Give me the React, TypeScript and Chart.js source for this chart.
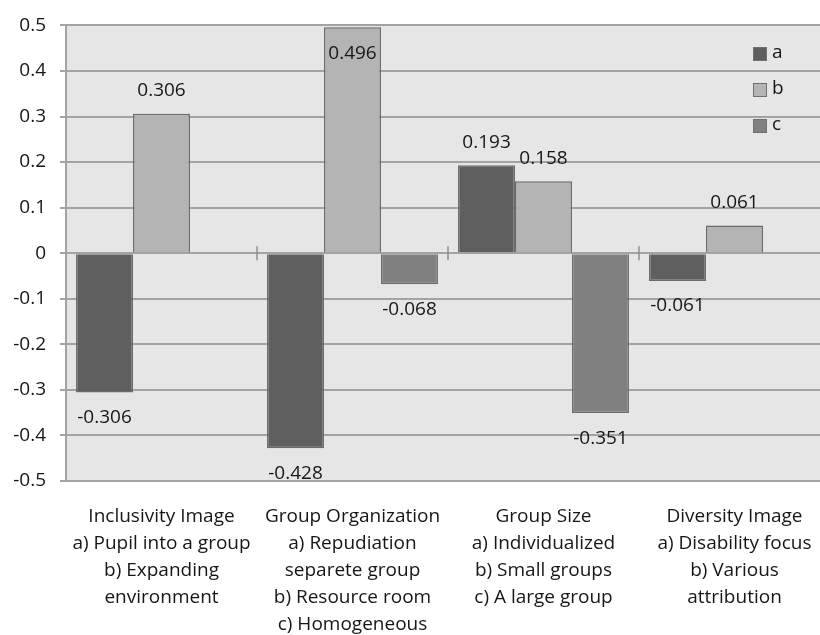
import React, { useEffect, useRef } from "react";
import { Chart, registerables } from "chart.js";

Chart.register(...registerables);

const categories: string[][] = [
  ["Inclusivity Image", "a) Pupil into a group", "b) Expanding", "environment"],
  ["Group Organization", "a) Repudiation", "separete group", "b) Resource room", "c) Homogeneous"],
  ["Group Size", "a) Individualized", "b) Small groups", "c) A large group"],
  ["Diversity Image", "a) Disability focus", "b) Various", "attribution"],
];
const seriesNames = ["a", "b", "c"];
const seriesA: (number | null)[] = [-0.306, -0.428, 0.193, -0.061];
const seriesB: (number | null)[] = [0.306, 0.496, 0.158, 0.061];
const seriesC: (number | null)[] = [null, -0.068, -0.351, null];
const seriesColors = ["#5f5f5f", "#b4b4b4", "#808080"];
const yMin = -0.5;
const yMax = 0.5;
const yStep = 0.1;

const FONT = "'Open Sans', sans-serif";
const TEXT = "#161616";
const GRID = "#a3a3a3";

const bgPlugin = {
  id: "plotBg",
  beforeDraw(chart: any) {
    const { ctx, chartArea } = chart;
    ctx.save();
    ctx.fillStyle = "#e6e6e6";
    ctx.fillRect(chartArea.left, chartArea.top, chartArea.right - chartArea.left, chartArea.bottom - chartArea.top);
    ctx.restore();
  },
};

const catTickPlugin = {
  id: "catTicks",
  afterDatasetsDraw(chart: any) {
    const { ctx } = chart;
    const xs = chart.scales.x;
    const ys = chart.scales.y;
    const y0 = ys.getPixelForValue(0);
    ctx.save();
    ctx.strokeStyle = "#8f8f8f";
    ctx.lineWidth = 1.5;
    for (let i = 1; i < categories.length; i++) {
      const bx = (xs.getPixelForTick(i - 1) + xs.getPixelForTick(i)) / 2;
      ctx.beginPath();
      ctx.moveTo(bx, y0 - 7);
      ctx.lineTo(bx, y0 + 7);
      ctx.stroke();
    }
    ctx.restore();
  },
};

const labelPlugin = {
  id: "valueLabels",
  afterDatasetsDraw(chart: any) {
    const { ctx, chartArea } = chart;
    ctx.save();
    ctx.font = `19px ${FONT}`;
    ctx.fillStyle = TEXT;
    ctx.textAlign = "center";
    ctx.textBaseline = "middle";
    chart.data.datasets.forEach((ds: any, di: number) => {
      const meta = chart.getDatasetMeta(di);
      meta.data.forEach((el: any, j: number) => {
        const v = ds.data[j];
        if (v === null || v === undefined) return;
        let y: number;
        if (v >= 0) {
          y = el.y - 23;
          if (y < chartArea.top + 10) y = el.y + 26;
        } else {
          y = el.y + 25;
        }
        ctx.fillText(v.toFixed(3), el.x, y);
      });
    });
    ctx.restore();
  },
};

const legendPlugin = {
  id: "insideLegend",
  afterDraw(chart: any) {
    const { ctx } = chart;
    const x = 753;
    const y0 = 54;
    const gap = 36;
    ctx.save();
    ctx.font = `19px ${FONT}`;
    ctx.textBaseline = "middle";
    ctx.textAlign = "left";
    chart.data.datasets.forEach((ds: any, i: number) => {
      const y = y0 + i * gap;
      ctx.fillStyle = ds.backgroundColor;
      ctx.fillRect(x, y - 7, 14, 14);
      ctx.strokeStyle = "#707070";
      ctx.lineWidth = 1;
      ctx.strokeRect(x + 0.5, y - 6.5, 13, 13);
      ctx.fillStyle = TEXT;
      ctx.fillText(ds.label, x + 19, y - 1);
    });
    ctx.restore();
  },
};

export default function App() {
  const ref = useRef<HTMLCanvasElement | null>(null);
  useEffect(() => {
    if (!ref.current) return;
    const values = [seriesA, seriesB, seriesC];
    const chart = new Chart(ref.current, {
      type: "bar",
      data: {
        labels: categories,
        datasets: seriesNames.map((name, i) => ({
          label: name,
          data: values[i],
          backgroundColor: seriesColors[i],
          borderColor: "#6b6b6b",
          borderWidth: 1.5,
          categoryPercentage: 0.895,
          barPercentage: 1.0,
        })),
      },
      options: {
        animation: false,
        responsive: true,
        maintainAspectRatio: false,
        layout: { padding: { left: 0, right: 8, top: 20, bottom: 0 } },
        plugins: { legend: { display: false }, tooltip: { enabled: false } },
        scales: {
          x: {
            grid: { display: false, drawTicks: false },
            border: { display: true, color: GRID, width: 2 },
            ticks: {
              color: TEXT,
              font: { family: FONT, size: 19, lineHeight: 1.42 },
              padding: 22,
              maxRotation: 0,
              autoSkip: false,
            },
            afterFit: (s: any) => {
              s.height = 154;
            },
          },
          y: {
            min: yMin,
            max: yMax,
            grid: { color: GRID, lineWidth: 2, tickLength: 6, tickColor: GRID },
            border: { display: true, color: GRID, width: 2 },
            ticks: {
              stepSize: yStep,
              color: TEXT,
              padding: 14,
              font: { family: FONT, size: 19 },
              callback: (v: any) => String(Math.round(Number(v) * 10) / 10),
            },
            afterFit: (s: any) => {
              s.width = 66;
            },
          },
        },
      },
      plugins: [bgPlugin, catTickPlugin, labelPlugin, legendPlugin],
    });
    return () => chart.destroy();
  }, []);

  return (
    <div style={{ position: "fixed", left: 0, top: 0, width: 820, height: 635, overflow: "hidden", background: "#fff" }}>
      <div style={{ position: "absolute", left: 0, top: 0, width: 838, height: 635 }}>
        <canvas ref={ref} />
      </div>
    </div>
  );
}
